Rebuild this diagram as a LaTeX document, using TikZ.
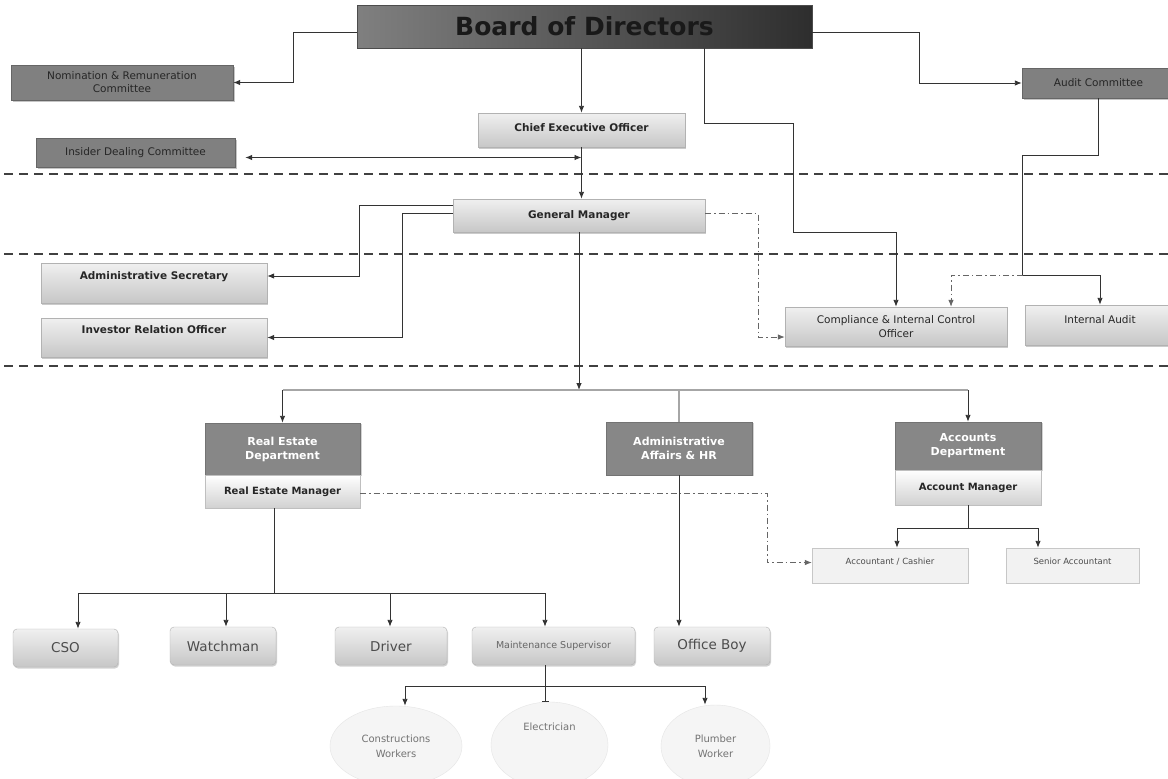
\documentclass[tikz,border=0pt]{standalone}
\usepackage{fontspec}
\setmainfont{DejaVu Sans}
\usetikzlibrary{arrows.meta,shadows,shapes.geometric}

\tikzset{
  wh/.style 2 args={minimum width=#1,minimum height=#2},
  raised/.style={text height=8pt,text depth=#1},
  conn/.style={draw=black!80,line width=0.9pt},
  tip/.style={-{Latex[length=7pt,width=5.5pt]}},
  dashdot/.style={draw=black!60,line width=0.8pt,dash pattern=on 6pt off 3pt on 1.5pt off 3pt},
  busline/.style={draw=black!35,line width=1.2pt},
  sepline/.style={draw=black!75,line width=1.3pt,dash pattern=on 9pt off 6pt},
  board/.style={draw=black!70,left color=black!50,middle color=black!22,right color=black!82,
    text=black!90,font=\bfseries\fontsize{25}{30}\selectfont,inner sep=0pt},
  darkbox/.style={draw=black!60,fill=black!50,text=black!85,inner sep=2pt,align=center,
    font=\fontsize{10.5}{13}\selectfont,
    drop shadow={shadow xshift=1.5pt,shadow yshift=-1.5pt,fill=black!45}},
  lightbox/.style={draw=black!30,top color=black!6,bottom color=black!22,text=black!85,
    inner sep=2pt,align=center,font=\bfseries\fontsize{10.5}{13}\selectfont,
    drop shadow={shadow xshift=1pt,shadow yshift=-1.5pt,fill=black!40}},
  plain/.style={font=\fontsize{10.5}{14}\selectfont},
  deptbox/.style={draw=black!55,fill=black!47,text=white,inner sep=2pt,align=center,
    font=\bfseries\fontsize{11}{14}\selectfont,
    drop shadow={shadow xshift=1.5pt,shadow yshift=-1pt,fill=black!35}},
  mgrbox/.style={draw=black!25,top color=white,bottom color=black!18,text=black!85,inner sep=2pt,
    font=\bfseries\fontsize{10}{12}\selectfont},
  thinbox/.style={draw=black!22,fill=black!5,text=black!70,inner sep=2pt,
    font=\fontsize{8.5}{10}\selectfont},
  roundbox/.style={draw=black!30,rounded corners=4pt,top color=black!6,bottom color=black!22,
    text=black!70,inner sep=2pt,font=\fontsize{13.5}{16}\selectfont,
    drop shadow={shadow xshift=1pt,shadow yshift=-1.5pt,fill=black!35}},
  oval/.style={ellipse,draw=black!10,fill=black!4,text=black!55,inner sep=2pt,align=center,
    font=\fontsize{10}{15}\selectfont}
}

\begin{document}
\begin{tikzpicture}[x=1pt,y=-1pt]
  \useasboundingbox (0,0) rectangle (1168,779);
  \clip (0,0) rectangle (1168,779);
  \fill[white] (0,0) rectangle (1168,779);

  \draw[sepline] (4,174) -- (1168,174);
  \draw[sepline] (4,254) -- (1168,254);
  \draw[sepline] (4,366) -- (1168,366);

  \node[board,wh={455pt}{43pt}] (board) at (584.5,26.5) {Board of Directors};
  \node[darkbox,wh={222pt}{35pt}] (nomin) at (122,82.5) {Nomination \& Remuneration\\Committee};
  \node[darkbox,wh={153pt}{30pt}] (audit) at (1098.5,83) {Audit Committee};
  \node[lightbox,raised=4.4pt,wh={207pt}{34pt}] (ceo) at (581.5,130) {Chief Executive Officer};
  \node[darkbox,wh={199pt}{29pt}] (insider) at (135.5,152.5) {Insider Dealing Committee};
  \node[lightbox,wh={252pt}{33pt}] (gm) at (579,215.5) {General Manager};
  \node[lightbox,raised=14.4pt,wh={226pt}{40pt}] (adminsec) at (154,283) {Administrative Secretary};
  \node[lightbox,raised=15.4pt,wh={226pt}{39pt}] (invest) at (154,337.5) {Investor Relation Officer};
  \node[lightbox,plain,wh={222pt}{39pt}] (compl) at (896,326.5) {Compliance \& Internal Control\\Officer};
  \node[lightbox,plain,raised=10.4pt,wh={150pt}{40pt}] (intaudit) at (1100,325) {Internal Audit};

  \node[deptbox,wh={155pt}{52pt}] (redept) at (282.5,449) {Real Estate\\Department};
  \node[mgrbox,wh={155pt}{33pt}] (remgr) at (282.5,491.5) {Real Estate Manager};
  \node[deptbox,wh={146pt}{53pt}] (hrdept) at (679,448.5) {Administrative\\Affairs \& HR};
  \node[deptbox,wh={146pt}{48pt}] (acdept) at (968,446) {Accounts\\Department};
  \node[mgrbox,wh={146pt}{35pt}] (acmgr) at (968,487.5) {Account Manager};
  \node[thinbox,raised=10.4pt,wh={156pt}{35pt}] (cashier) at (890,565.5) {Accountant / Cashier};
  \node[thinbox,raised=10.4pt,wh={133pt}{35pt}] (senior) at (1072.5,565.5) {Senior Accountant};

  \node[roundbox,wh={105pt}{38pt}] (cso) at (65.5,648) {CSO};
  \node[roundbox,wh={106pt}{38pt}] (watch) at (223,646) {Watchman};
  \node[roundbox,wh={112pt}{38pt}] (driver) at (391,646) {Driver};
  \node[roundbox,wh={163pt}{38pt},font=\fontsize{9.5}{11}\selectfont,text=black!60] (maint) at (553.5,646) {Maintenance Supervisor};
  \node[roundbox,wh={116pt}{38pt}] (officeboy) at (712,646) {Office Boy};

  \node[oval,wh={132pt}{80pt}] (constr) at (396,746) {Constructions\\Workers};
  \node[oval,raised=36.4pt,wh={117pt}{86pt}] (elec) at (549.5,745) {Electrician};
  \node[oval,wh={109pt}{82pt}] (plumber) at (715.5,746) {Plumber\\Worker};

  \coordinate (hub) at (579,390);

  \draw[conn,tip] ([yshift=-5.5pt]board.west) -- ++(-63,0) |- (nomin.east);
  \draw[conn,tip] ([yshift=-5.5pt]board.east) -- ++(107,0) |- (audit.west);
  \draw[conn,tip] (ceo.north |- board.south) -- (ceo.north);
  \draw[conn,tip] ([xshift=120pt]board.south) -- ++(0,75) -- ++(89,0) -- ++(0,109) -| (compl.north);
  \draw[conn] (audit.south) -- ++(0,57) -- ++(-76,0) -- ++(0,120) coordinate (ajoin);
  \draw[conn,tip] (ajoin) -| (intaudit.north);
  \draw[dashdot,tip] (ajoin) -| ([xshift=55pt]compl.north);
  \draw[conn,{Latex[length=7pt,width=5.5pt]}-{Latex[length=7pt,width=5.5pt]}] ([xshift=10pt,yshift=-5pt]insider.east) -- ([yshift=-5pt]insider.east -| ceo.south);
  \draw[conn,tip] (ceo.south) -- (ceo.south |- gm.north);
  \draw[conn,tip] ([yshift=10pt]gm.west) -- ++(-93,0) |- ([yshift=7pt]adminsec.east);
  \draw[conn,tip] ([yshift=2pt]gm.west) -- ++(-50,0) |- (invest.east);
  \draw[dashdot,tip] ([yshift=2pt]gm.east) -- ++(53,0) |- ([yshift=-10.5pt]compl.west);

  \draw[conn,tip] (gm.south) -- (hub);
  \draw[busline] (redept.north |- hub) -- (acdept.north |- hub);
  \draw[conn,tip] (redept.north |- hub) -- (redept.north);
  \draw[busline] (hrdept.north |- hub) -- (hrdept.north);
  \draw[conn,tip] (acdept.north |- hub) -- (acdept.north);

  \draw[dashdot,tip] ([yshift=-1.5pt]remgr.east) -- ++(407,0) |- ([yshift=3pt]cashier.west);
  \draw[conn,tip] (hrdept.south) -- (hrdept.south |- officeboy.north);
  \draw[conn,tip] (acmgr.south) -- ++(0,23) -| ([xshift=7pt]cashier.north);
  \draw[conn,tip] (acmgr.south) -- ++(0,23) -| ([xshift=-34.5pt]senior.north);

  \draw[conn] ([xshift=-8.5pt]remgr.south) -- ++(0,85) coordinate (resplit);
  \foreach \t/\dx in {cso/12.5,watch/3,driver/-1,maint/-8.5}
    \draw[conn,tip] (resplit) -| ([xshift=\dx pt]\t.north);

  \draw[conn] ([xshift=-8.5pt]maint.south) -- ++(0,21) coordinate (msplit);
  \draw[conn,tip] (msplit) -| ([xshift=9pt]constr.north);
  \draw[conn,tip] (msplit) -| ([xshift=-10.5pt]plumber.north);
  \draw[conn,-{Bar[width=7pt]}] (msplit) -- ([xshift=-4.5pt]elec.north);
\end{tikzpicture}
\end{document}
